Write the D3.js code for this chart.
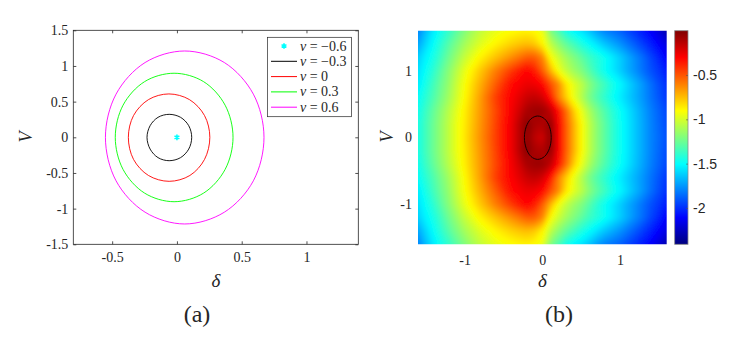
<!DOCTYPE html>
<html>
<head>
<meta charset="utf-8">
<script src="https://cdn.jsdelivr.net/npm/d3@7"></script>
<style>
body { margin: 0; background: #fff; }
svg text { fill: #262626; font-family: 'Liberation Serif', 'Times New Roman', 'DejaVu Serif', serif; }
svg text.sans { font-family: 'Liberation Sans', Arial, sans-serif; }
</style>
</head>
<body>
<svg width="747" height="343"></svg>
<script>
// ---- panel (a): level curves as [delta, V] points
var levelNames = ['\u22120.6', '\u22120.3', '0', '0.3', '0.6'];
var levelColors = ['#00ffff', '#000000', '#ff0000', '#00ff00', '#ff00ff'];

var starPoint = [0, 0];

var blackCurve = [[0.114, 0], [0.091, 0.163], [0.028, 0.28], [-0.06, 0.322], [-0.146, 0.28], [-0.207, 0.163],
    [-0.231, 0], [-0.207, -0.165], [-0.146, -0.285], [-0.06, -0.328], [0.028, -0.285], [0.091, -0.165]];
var redCurve = [[0.254, 0], [0.213, 0.305], [0.097, 0.528], [-0.062, 0.608], [-0.22, 0.528], [-0.335, 0.305],
    [-0.375, 0], [-0.335, -0.31], [-0.22, -0.535], [-0.06, -0.617], [0.1, -0.535], [0.213, -0.31]];
var greenCurve = [[0.433, 0], [0.372, 0.45], [0.206, 0.78], [-0.022, 0.898], [-0.25, 0.78], [-0.416, 0.45],
    [-0.476, 0], [-0.416, -0.45], [-0.25, -0.782], [-0.022, -0.903], [0.206, -0.782], [0.372, -0.45]];
var magentaCurve = [[0.672, 0], [0.59, 0.605], [0.366, 1.048], [0.06, 1.21], [-0.246, 1.048], [-0.47, 0.605],
    [-0.552, 0], [-0.47, -0.61], [-0.246, -1.05], [0.06, -1.215], [0.366, -1.05], [0.59, -0.61]];

var ticksA_x = [-0.5, 0, 0.5, 1];
var ticksA_y = [-1.5, -1, -0.5, 0, 0.5, 1, 1.5];

// ---- panel (b): field values, delta = -1.6..1.6 step 0.1, rows V = 1.6 down to -1.6 step 0.2
var gridDelta = d3.range(-16, 17).map(function(i){ return i / 10; });
var gridV = [1.6, 1.4, 1.2, 1, 0.8, 0.6, 0.4, 0.2, 0, -0.2, -0.4, -0.6, -0.8, -1, -1.2, -1.4, -1.6];
var rowV16 = [-1.80,-1.66,-1.55,-1.46,-1.38,-1.29,-1.20,-1.12,-1.05,-1.00,-0.96,-0.93,-0.91,-0.89,-0.88,-0.90,
    -0.95,-1.20,-1.32,-1.45,-1.52,-1.57,-1.64,-1.73,-1.80,-1.84,-1.88,-1.94,-2.00,-2.06,-2.12,-2.20,-2.30];
var rowV14 = [-1.72,-1.60,-1.50,-1.40,-1.30,-1.21,-1.12,-1.05,-0.98,-0.93,-0.88,-0.84,-0.80,-0.77,-0.75,-0.78,
    -0.88,-1.05,-1.17,-1.27,-1.35,-1.43,-1.50,-1.57,-1.64,-1.70,-1.76,-1.83,-1.90,-1.97,-2.04,-2.11,-2.18];
var rowV12 = [-1.62,-1.53,-1.45,-1.35,-1.24,-1.14,-1.04,-0.96,-0.88,-0.82,-0.76,-0.70,-0.64,-0.58,-0.52,-0.52,
    -0.62,-0.90,-1.02,-1.12,-1.20,-1.28,-1.36,-1.42,-1.48,-1.55,-1.62,-1.70,-1.78,-1.86,-1.95,-2.03,-2.12];
var rowV10 = [-1.58,-1.49,-1.40,-1.29,-1.18,-1.07,-0.96,-0.87,-0.78,-0.69,-0.60,-0.52,-0.44,-0.37,-0.31,-0.37,
    -0.52,-0.72,-0.92,-1.04,-1.13,-1.20,-1.30,-1.40,-1.48,-1.55,-1.62,-1.70,-1.77,-1.85,-1.92,-1.98,-2.05];
var rowV08 = [-1.55,-1.45,-1.35,-1.25,-1.15,-1.03,-0.92,-0.82,-0.72,-0.62,-0.52,-0.42,-0.33,-0.29,-0.26,-0.27,
    -0.32,-0.48,-0.62,-0.84,-0.97,-1.06,-1.18,-1.28,-1.36,-1.45,-1.52,-1.60,-1.68,-1.76,-1.85,-1.93,-2.00];
var rowV06 = [-1.50,-1.41,-1.32,-1.22,-1.12,-1.01,-0.90,-0.79,-0.68,-0.56,-0.45,-0.37,-0.30,-0.24,-0.18,-0.16,
    -0.20,-0.35,-0.60,-0.78,-0.95,-1.08,-1.22,-1.32,-1.40,-1.48,-1.55,-1.62,-1.69,-1.76,-1.84,-1.91,-1.98];
var rowV04 = [-1.47,-1.37,-1.27,-1.17,-1.07,-0.97,-0.87,-0.77,-0.67,-0.57,-0.47,-0.38,-0.28,-0.20,-0.10,-0.07,
    -0.07,-0.15,-0.33,-0.55,-0.78,-0.95,-1.10,-1.22,-1.32,-1.41,-1.49,-1.57,-1.65,-1.73,-1.81,-1.88,-1.94];
var rowV02 = [-1.45,-1.35,-1.25,-1.15,-1.05,-0.95,-0.86,-0.76,-0.66,-0.56,-0.46,-0.36,-0.27,-0.15,-0.03,-0.10,
    -0.12,-0.05,-0.28,-0.52,-0.72,-0.90,-1.05,-1.18,-1.29,-1.39,-1.48,-1.56,-1.64,-1.72,-1.80,-1.87,-1.93];
var rowV00 = [-1.45,-1.35,-1.25,-1.15,-1.05,-0.95,-0.85,-0.75,-0.65,-0.55,-0.45,-0.36,-0.27,-0.15,-0.04,-0.15,
    -0.20,-0.04,-0.28,-0.52,-0.72,-0.90,-1.05,-1.18,-1.29,-1.39,-1.48,-1.56,-1.64,-1.72,-1.80,-1.86,-1.92];
// the picture is symmetric in V, lower half uses the same readings
var fieldRows = [rowV16, rowV14, rowV12, rowV10, rowV08, rowV06, rowV04, rowV02, rowV00,
    rowV02, rowV04, rowV06, rowV08, rowV10, rowV12, rowV14, rowV16];

var ticksB = [-1, 0, 1];
var colorRange = [-2.41, 0];
var ticksBar = [-2, -1.5, -1, -0.5];

var jet = ['#00007f', '#0000ff', '#007fff', '#00ffff', '#7fff7f', '#ffff00', '#ff7f00', '#ff0000', '#7f0000'];

var svg = d3.select('svg');
var defs = svg.append('defs');
var axisColor = '#262626';

// ================= panel (a) =================
var xA = d3.scaleLinear().domain([-0.8, 1.4]).range([73.3, 358.3]);
var yA = d3.scaleLinear().domain([-1.5, 1.5]).range([244.3, 30.3]);

var gA = svg.append('g');

var line = d3.line()
    .x(function(d){ return xA(d[0]); })
    .y(function(d){ return yA(d[1]); })
    .curve(d3.curveCatmullRomClosed);

var curves = [blackCurve, redCurve, greenCurve, magentaCurve];
gA.selectAll('path.level')
    .data(curves)
    .enter()
    .append('path')
    .attr('class', 'level')
    .attr('d', line)
    .attr('fill', 'none')
    .attr('stroke', function(d, i){ return levelColors[i + 1]; })
    .attr('stroke-width', 0.9);

var star = d3.symbol().type(d3.symbolAsterisk).size(22);
gA.append('path')
    .attr('d', star)
    .attr('transform', 'translate(' + xA(starPoint[0]) + ',' + yA(starPoint[1]) + ')')
    .attr('fill', 'none')
    .attr('stroke', levelColors[0])
    .attr('stroke-width', 1.6);

function styleAxis(g) {
    g.select('.domain').remove();
    g.selectAll('line').attr('stroke', axisColor).attr('stroke-width', 0.8);
    g.selectAll('text').attr('font-family', null).attr('font-size', 14);
}

gA.append('g')
    .attr('transform', 'translate(0,' + yA.range()[0] + ')')
    .call(d3.axisBottom(xA).tickValues(ticksA_x).tickSizeInner(-3).tickSizeOuter(0).tickPadding(8)
        .tickFormat(function(d){ return String(d); }))
    .call(styleAxis);
gA.append('g')
    .attr('transform', 'translate(0,' + yA.range()[1] + ')')
    .call(d3.axisTop(xA).tickValues(ticksA_x).tickSizeInner(-3).tickSizeOuter(0).tickFormat(''))
    .call(styleAxis);
gA.append('g')
    .attr('transform', 'translate(' + xA.range()[0] + ',0)')
    .call(d3.axisLeft(yA).tickValues(ticksA_y).tickSizeInner(-3).tickSizeOuter(0).tickPadding(5)
        .tickFormat(function(d){ return String(d); }))
    .call(styleAxis);
gA.append('g')
    .attr('transform', 'translate(' + xA.range()[1] + ',0)')
    .call(d3.axisRight(yA).tickValues(ticksA_y).tickSizeInner(-3).tickSizeOuter(0).tickFormat(''))
    .call(styleAxis);

gA.append('rect')
    .attr('x', xA.range()[0]).attr('y', yA.range()[1])
    .attr('width', xA.range()[1] - xA.range()[0])
    .attr('height', yA.range()[0] - yA.range()[1])
    .attr('fill', 'none')
    .attr('stroke', axisColor)
    .attr('stroke-width', 0.8);

// legend
var legend = gA.append('g');
legend.append('rect')
    .attr('x', 267.5).attr('y', 37.3).attr('width', 84).attr('height', 79.4)
    .attr('fill', '#fff').attr('stroke', axisColor).attr('stroke-width', 0.7);

var rows = legend.selectAll('g.row')
    .data(levelNames)
    .enter()
    .append('g')
    .attr('class', 'row')
    .attr('transform', function(d, i){ return 'translate(0,' + (46 + i * 15.3) + ')'; });

rows.filter(function(d, i){ return i > 0; })
    .append('line')
    .attr('x1', 271).attr('x2', 297)
    .attr('stroke', function(d, i){ return levelColors[i + 1]; })
    .attr('stroke-width', 1);

rows.filter(function(d, i){ return i === 0; })
    .append('path')
    .attr('d', star)
    .attr('transform', 'translate(284,0)')
    .attr('fill', 'none')
    .attr('stroke', levelColors[0])
    .attr('stroke-width', 1.6);

var lt = rows.append('text')
    .attr('x', 300).attr('y', 4.5)
    .attr('font-size', 14);
lt.append('tspan').attr('font-style', 'italic').text('v');
lt.append('tspan').text(function(d){ return ' = ' + d; });

// axis titles
svg.append('text')
    .attr('x', xA(0.3)).attr('y', 287)
    .attr('text-anchor', 'middle')
    .attr('font-style', 'italic').attr('font-size', 19)
    .text('\u03b4');
svg.append('text')
    .attr('transform', 'translate(32,137) rotate(-90)')
    .attr('text-anchor', 'middle')
    .attr('font-style', 'italic').attr('font-size', 18)
    .text('V');
svg.append('text')
    .attr('x', 197).attr('y', 322)
    .attr('text-anchor', 'middle')
    .attr('font-size', 24)
    .text('(a)');

// ================= panel (b) =================
var xB = d3.scaleLinear().domain([-1.6, 1.6]).range([418, 666.7]);
var yB = d3.scaleLinear().domain([-1.6, 1.6]).range([244.3, 30.7]);

var color = d3.scaleLinear()
    .domain(jet.map(function(c, i){ return colorRange[0] + i * (colorRange[1] - colorRange[0]) / (jet.length - 1); }))
    .range(jet)
    .clamp(true);

var nx = gridDelta.length, ny = gridV.length;
var values = [];
fieldRows.forEach(function(r){ r.forEach(function(v){ values.push(v); }); });

var step = 0.012;
var thresholds = d3.range(-2.5, 0.02, step);
var contours = d3.contours().size([nx, ny]).thresholds(thresholds)(values);

var dD = gridDelta[1] - gridDelta[0];
var dV = gridV[1] - gridV[0];
var proj = d3.geoTransform({
    point: function(x, y){
        this.stream.point(xB(gridDelta[0] + (x - 0.5) * dD), yB(gridV[0] + (y - 0.5) * dV));
    }
});
var path = d3.geoPath(proj);

defs.append('clipPath').attr('id', 'clipB')
    .append('rect')
    .attr('x', xB.range()[0]).attr('y', yB.range()[1])
    .attr('width', xB.range()[1] - xB.range()[0])
    .attr('height', yB.range()[0] - yB.range()[1]);

// soften the facets of the coarse grid
defs.append('filter').attr('id', 'soft')
    .attr('x', '-5%').attr('y', '-5%').attr('width', '110%').attr('height', '110%')
    .append('feGaussianBlur').attr('stdDeviation', 2);

var gB = svg.append('g').attr('clip-path', 'url(#clipB)');
gB.append('g')
    .attr('filter', 'url(#soft)')
    .selectAll('path.band')
    .data(contours)
    .enter()
    .append('path')
    .attr('class', 'band')
    .attr('d', path)
    .attr('fill', function(d){ return color(d.value + step / 2); })
    .attr('stroke', function(d){ return color(d.value + step / 2); })
    .attr('stroke-width', 0.4);

var lineB = d3.line()
    .x(function(d){ return xB(d[0]); })
    .y(function(d){ return yB(d[1]); })
    .curve(d3.curveCatmullRomClosed);
gB.append('path')
    .attr('d', lineB(blackCurve))
    .attr('fill', 'none')
    .attr('stroke', '#1a0000')
    .attr('stroke-width', 1);

function styleB(g) {
    g.select('.domain').remove();
    g.selectAll('line').remove();
    g.selectAll('text').attr('font-family', null).attr('font-size', 14);
}
svg.append('g')
    .attr('transform', 'translate(0,' + yB.range()[0] + ')')
    .call(d3.axisBottom(xB).tickValues(ticksB).tickSize(0).tickPadding(11)
        .tickFormat(function(d){ return String(d); }))
    .call(styleB);
svg.append('g')
    .attr('transform', 'translate(' + xB.range()[0] + ',0)')
    .call(d3.axisLeft(yB).tickValues(ticksB).tickSize(0).tickPadding(6)
        .tickFormat(function(d){ return String(d); }))
    .call(styleB);

svg.append('text')
    .attr('x', xB(0)).attr('y', 287)
    .attr('text-anchor', 'middle')
    .attr('font-style', 'italic').attr('font-size', 19)
    .text('\u03b4');
svg.append('text')
    .attr('transform', 'translate(393,137) rotate(-90)')
    .attr('text-anchor', 'middle')
    .attr('font-style', 'italic').attr('font-size', 18)
    .text('V');
svg.append('text')
    .attr('x', 559).attr('y', 322)
    .attr('text-anchor', 'middle')
    .attr('font-size', 24)
    .text('(b)');

// colorbar
var cY = d3.scaleLinear().domain(colorRange).range([244.3, 30.7]);
var grad = defs.append('linearGradient')
    .attr('id', 'jetGrad')
    .attr('x1', 0).attr('y1', 1).attr('x2', 0).attr('y2', 0);
grad.selectAll('stop')
    .data(jet)
    .enter()
    .append('stop')
    .attr('offset', function(d, i){ return i / (jet.length - 1); })
    .attr('stop-color', function(d){ return d; });

svg.append('rect')
    .attr('x', 674.7).attr('y', cY.range()[1])
    .attr('width', 13.3).attr('height', cY.range()[0] - cY.range()[1])
    .attr('fill', 'url(#jetGrad)')
    .attr('stroke', '#8a8a8a').attr('stroke-width', 0.8);

var cAxis = svg.append('g')
    .attr('transform', 'translate(688,0)')
    .call(d3.axisRight(cY).tickValues(ticksBar).tickSizeInner(-2).tickSizeOuter(0).tickPadding(5)
        .tickFormat(function(d){ return String(d); }));
cAxis.select('.domain').remove();
cAxis.selectAll('line').attr('stroke', '#555').attr('stroke-width', 0.6);
cAxis.selectAll('text').attr('font-family', null).attr('class', 'sans').attr('font-size', 14);
</script>
</body>
</html>
